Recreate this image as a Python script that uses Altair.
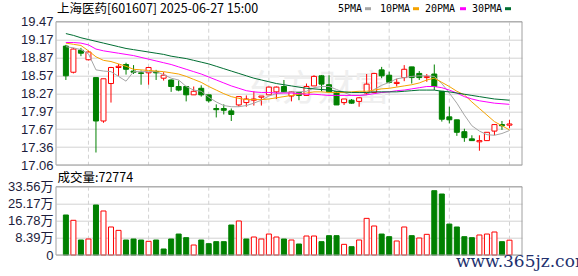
import json
import altair as alt
import pandas as pd

# ---------------- data ----------------
dates = ["03-31", "04-01", "04-02", "04-03", "04-07", "04-08", "04-09", "04-10", "04-11", "04-14",
         "04-15", "04-16", "04-17", "04-18", "04-21", "04-22", "04-23", "04-24", "04-25", "04-28",
         "04-29", "04-30", "05-06", "05-07", "05-08", "05-09", "05-12", "05-13", "05-14", "05-15",
         "05-16", "05-19", "05-20", "05-21", "05-22", "05-23", "05-26", "05-27", "05-28", "05-29",
         "05-30", "06-03", "06-04", "06-05", "06-06", "06-09", "06-10", "06-11", "06-12", "06-13",
         "06-16", "06-17", "06-18", "06-19", "06-20", "06-23", "06-24", "06-25", "06-26", "06-27"]

opens = [19.06, 18.62, 18.99, 18.83, 18.53, 17.80, 18.43, 18.70, 18.75, 18.64,
         18.61, 18.61, 18.63, 18.52, 18.49, 18.38, 18.38, 18.24, 18.35, 18.24,
         18.01, 18.01, 17.97, 18.07, 18.11, 18.15, 18.20, 18.24, 18.29, 18.38,
         18.22, 18.28, 18.23, 18.39, 18.56, 18.41, 18.29, 18.11, 18.15, 18.13,
         18.27, 18.28, 18.66, 18.57, 18.43, 18.53, 18.71, 18.60, 18.53, 18.59,
         18.30, 17.87, 17.82, 17.62, 17.50, 17.45, 17.47, 17.63, 17.74, 17.73]
highs = [19.08, 19.03, 19.03, 18.98, 18.53, 18.51, 18.71, 18.76, 18.78, 18.74,
         18.65, 18.71, 18.66, 18.62, 18.50, 18.48, 18.39, 18.38, 18.40, 18.24,
         18.08, 18.08, 18.01, 18.21, 18.23, 18.30, 18.22, 18.38, 18.38, 18.49,
         18.30, 18.29, 18.43, 18.57, 18.57, 18.57, 18.30, 18.17, 18.17, 18.20,
         18.59, 18.61, 18.71, 18.63, 18.51, 18.74, 18.71, 18.64, 18.59, 18.75,
         18.30, 18.04, 17.82, 17.67, 17.56, 17.56, 17.61, 17.74, 17.80, 17.82]
lows = [18.49, 18.60, 18.89, 18.82, 17.27, 17.77, 18.11, 18.56, 18.58, 18.59,
        18.41, 18.41, 18.49, 18.48, 18.29, 18.30, 18.13, 18.24, 18.21, 18.11,
        17.86, 17.91, 17.80, 18.04, 18.04, 18.06, 18.06, 18.24, 18.17, 18.28,
        18.13, 18.15, 18.22, 18.39, 18.30, 18.29, 18.07, 18.07, 18.09, 18.04,
        18.24, 18.27, 18.52, 18.43, 18.38, 18.47, 18.43, 18.49, 18.46, 18.32,
        17.79, 17.76, 17.55, 17.45, 17.47, 17.30, 17.47, 17.56, 17.65, 17.68]
closes = [18.56, 19.01, 18.94, 18.96, 17.80, 18.51, 18.70, 18.72, 18.67, 18.62,
          18.60, 18.70, 18.61, 18.57, 18.38, 18.32, 18.24, 18.30, 18.24, 18.14,
          17.99, 17.98, 17.91, 18.21, 18.17, 18.17, 18.22, 18.37, 18.37, 18.29,
          18.29, 18.23, 18.38, 18.55, 18.42, 18.29, 18.07, 18.17, 18.10, 18.19,
          18.42, 18.60, 18.56, 18.45, 18.45, 18.67, 18.53, 18.53, 18.55, 18.38,
          17.83, 17.82, 17.61, 17.52, 17.47, 17.47, 17.61, 17.74, 17.72, 17.75]

# volume in 万 shares
volumes = [19.66, 17.05, 7.37, 7.86, 24.57, 21.62, 13.76, 12.10, 7.37, 7.86,
           7.37, 6.72, 7.37, 2.95, 7.86, 10.30, 8.52, 4.91, 7.37, 5.57,
           6.55, 6.55, 14.74, 16.70, 7.86, 8.84, 7.86, 10.30, 8.84, 7.86,
           7.37, 5.40, 9.33, 9.33, 6.55, 9.50, 9.50, 5.24, 4.09, 7.37,
           18.00, 14.25, 10.30, 9.00, 6.88, 13.76, 9.50, 8.35, 10.15, 31.60,
           29.97, 15.20, 13.76, 9.00, 8.52, 9.83, 10.30, 11.30, 6.55, 7.28]
vol_dir = ["down", "up", "down", "up", "down", "up", "up", "up", "down", "down",
           "down", "up", "down", "down", "down", "down", "down", "up", "down", "down",
           "down", "down", "down", "up", "down", "up", "up", "up", "up", "down",
           "up", "down", "up", "up", "down", "down", "down", "up", "down", "up",
           "up", "up", "down", "down", "up", "up", "down", "up", "up", "down",
           "down", "down", "down", "down", "down", "up", "up", "up", "down", "up"]

ma5 = [19.05, 19.03, 19.00, 18.93, 18.66, 18.64, 18.63, 18.55, 18.47, 18.63,
       18.63, 18.63, 18.63, 18.58, 18.52, 18.49, 18.38, 18.32, 18.30, 18.20,
       18.12, 18.06, 18.04, 18.04, 18.06, 18.10, 18.15, 18.22, 18.26, 18.28,
       18.29, 18.29, 18.30, 18.36, 18.38, 18.38, 18.33, 18.28, 18.23, 18.23,
       18.24, 18.33, 18.40, 18.45, 18.51, 18.53, 18.55, 18.56, 18.56, 18.55,
       18.43, 18.27, 18.10, 17.90, 17.72, 17.63, 17.57, 17.56, 17.59, 17.64]
ma10 = [19.11, 19.09, 19.07, 18.98, 18.88, 18.82, 18.80, 18.76, 18.72, 18.67,
        18.66, 18.65, 18.64, 18.63, 18.61, 18.59, 18.55, 18.50, 18.45, 18.38,
        18.32, 18.26, 18.21, 18.18, 18.16, 18.16, 18.16, 18.17, 18.19, 18.21,
        18.23, 18.25, 18.27, 18.29, 18.29, 18.28, 18.28, 18.28, 18.29, 18.30,
        18.30, 18.32, 18.34, 18.35, 18.37, 18.39, 18.41, 18.44, 18.49, 18.52,
        18.45, 18.38, 18.30, 18.24, 18.12, 18.01, 17.90, 17.79, 17.72, 17.65]
ma20 = [19.12, 19.12, 19.11, 19.08, 19.01, 18.98, 18.96, 18.94, 18.92, 18.90,
        18.87, 18.84, 18.81, 18.78, 18.75, 18.71, 18.67, 18.63, 18.59, 18.54,
        18.49, 18.44, 18.39, 18.35, 18.31, 18.29, 18.28, 18.28, 18.27, 18.27,
        18.27, 18.26, 18.25, 18.25, 18.24, 18.23, 18.23, 18.23, 18.23, 18.23,
        18.24, 18.26, 18.28, 18.29, 18.31, 18.32, 18.34, 18.36, 18.38, 18.38,
        18.36, 18.32, 18.27, 18.21, 18.17, 18.14, 18.12, 18.10, 18.09, 18.08]
ma30 = [19.27, 19.24, 19.20, 19.17, 19.14, 19.11, 19.08, 19.05, 19.02, 19.00,
        18.98, 18.96, 18.94, 18.92, 18.89, 18.87, 18.85, 18.82, 18.79, 18.76,
        18.72, 18.68, 18.64, 18.60, 18.56, 18.52, 18.49, 18.46, 18.43, 18.41,
        18.39, 18.37, 18.35, 18.34, 18.33, 18.32, 18.30, 18.29, 18.28, 18.28,
        18.28, 18.29, 18.29, 18.29, 18.29, 18.30, 18.31, 18.32, 18.32, 18.32,
        18.30, 18.29, 18.27, 18.25, 18.23, 18.21, 18.19, 18.17, 18.16, 18.15]

ma_names = ["5PMA", "10PMA", "20PMA", "30PMA"]
ma_colors = ["#a6a6a6", "#f5a300", "#ff00ff", "#006e32"]

price_labels = ["17.06", "17.36", "17.67", "17.97", "18.27", "18.57", "18.87", "19.17", "19.47"]
vol_labels = ["0", "8.39万", "16.78万", "25.17万", "33.56万"]
vol_ticks = [0, 8.39, 16.78, 25.17, 33.56]
x_tick_idx = [3, 11, 19, 27, 35, 43, 51, 59]

title_text = "上海医药[601607] 2025-06-27 15:00"
vol_title = "成交量:72774"
watermark = "www.365jz.com"
faint_mark = "东方财富"

# ---------------- layout (pixels) ----------------
W = 466
HP = 143.3          # price panel height
GAP = 21.7
HV = 68.3           # volume panel height
H = HP + GAP + HV
PMIN, PMAX = 17.06, 19.47
step = (PMAX - PMIN) / 8
price_pos = [PMIN + k * step for k in range(9)]

RED = "#ff0000"
GREEN = "#008000"
FRAME = "#a0a0a0"
GRID = "#d2d2d2"
LABEL = "#1c1c3c"

n = len(dates)
df = pd.DataFrame({
    "i": list(range(n)), "date": dates, "open": opens, "high": highs,
    "low": lows, "close": closes, "vol": volumes, "vdir": vol_dir,
})
df["dir"] = ["up" if c >= o else "down" for o, c in zip(opens, closes)]

ma_df = pd.concat([
    pd.DataFrame({"i": list(range(n)), "v": vals, "ma": name})
    for name, vals in zip(ma_names, [ma5, ma10, ma20, ma30])
])
tick_df = pd.DataFrame({"i": x_tick_idx})
one = alt.Data(values=[{"a": 1}])

xscale = alt.Scale(domain=[-0.65, 60.0], nice=False, zero=False)
pscale = alt.Scale(domain=[PMIN, PMAX], range=[HP, 0], nice=False, zero=False)
vscale = alt.Scale(domain=[0, 33.56], range=[H, H - HV], nice=False, zero=True)
fill_scale = alt.Scale(domain=["up", "down"], range=["#ffffff", GREEN])
stroke_scale = alt.Scale(domain=["up", "down"], range=[RED, GREEN])

X0 = alt.X("i:Q", scale=xscale, axis=None)

x_axis = alt.Axis(values=x_tick_idx, labelExpr=json.dumps(dates) + "[round(datum.value)]",
                  labelColor=RED, labelFontSize=11, labelFont="Liberation Sans",
                  domain=False, ticks=False, tickSize=0, grid=False, labelPadding=5,
                  title=None, labelFlush=False)
p_axis = alt.Axis(values=price_pos, orient="left",
                  labelExpr=json.dumps(price_labels) + f"[round((datum.value - {PMIN}) / {step})]",
                  grid=True, gridColor=GRID, gridWidth=1, domain=False, ticks=False, tickSize=0,
                  labelPadding=3, labelFontSize=13, labelFont="Liberation Sans",
                  labelColor=LABEL, title=None, labelFlush=False)
v_axis = alt.Axis(values=vol_ticks, orient="left",
                  labelExpr=json.dumps(vol_labels) + "[round(datum.value / 8.39)]",
                  grid=True, gridColor=GRID, gridWidth=1, domain=False, ticks=False, tickSize=0,
                  labelPadding=3, labelFontSize=13, labelFont="Liberation Sans, Noto Sans CJK SC",
                  labelColor=LABEL, title=None, labelFlush=False)

# faint background watermark
faint = alt.Chart(one).mark_text(text=faint_mark, fontSize=36, font="Noto Sans CJK SC",
                                 color="#efefef", align="left", baseline="middle").encode(
    x=alt.value(190), y=alt.value(68))

# dashed vertical grid
vgrid_p = alt.Chart(tick_df).mark_rule(color=GRID, strokeDash=[4, 3], strokeWidth=1).encode(
    x=X0, y=alt.value(0), y2=alt.value(HP))
vgrid_v = alt.Chart(tick_df).mark_rule(color=GRID, strokeDash=[4, 3], strokeWidth=1).encode(
    x=X0, y=alt.value(H - HV), y2=alt.value(H))

# candles
wick = alt.Chart(df).mark_rule(strokeWidth=1).encode(
    x=X0,
    y=alt.Y("low:Q", scale=pscale, axis=p_axis),
    y2="high:Q",
    stroke=alt.Stroke("dir:N", scale=stroke_scale, legend=None),
)
body = alt.Chart(df).mark_bar(size=5, strokeWidth=1).encode(
    x=X0,
    y=alt.Y("open:Q", scale=pscale, axis=None),
    y2="close:Q",
    fill=alt.Fill("dir:N", scale=fill_scale, legend=None),
    stroke=alt.Stroke("dir:N", scale=stroke_scale, legend=None),
)
ma_lines = alt.Chart(ma_df).mark_line(strokeWidth=1).encode(
    x=X0,
    y=alt.Y("v:Q", scale=pscale, axis=None),
    color=alt.Color("ma:N", scale=alt.Scale(domain=ma_names, range=ma_colors), legend=None),
    detail="ma:N",
)

# volume
vbars = alt.Chart(df).mark_bar(size=5, strokeWidth=1).encode(
    x=alt.X("i:Q", scale=xscale, axis=x_axis),
    y=alt.Y("vol:Q", scale=vscale, axis=v_axis),
    fill=alt.Fill("vdir:N", scale=fill_scale, legend=None),
    stroke=alt.Stroke("vdir:N", scale=stroke_scale, legend=None),
)

# frames
frame_p = alt.Chart(one).mark_rect(fillOpacity=0, stroke=FRAME, strokeWidth=1).encode(
    x=alt.value(0), x2=alt.value(W), y=alt.value(0), y2=alt.value(HP))
frame_v = alt.Chart(one).mark_rect(fillOpacity=0, stroke=FRAME, strokeWidth=1).encode(
    x=alt.value(0), x2=alt.value(W), y=alt.value(H - HV), y2=alt.value(H))

# texts
title = alt.Chart(one).mark_text(text=title_text, fontSize=12.5, font="Noto Sans CJK SC",
                                 color="#000000", align="left", baseline="middle").encode(
    x=alt.value(1), y=alt.value(-13))
vtitle = alt.Chart(one).mark_text(text=vol_title, fontSize=12.5, font="Noto Sans CJK SC",
                                  color="#000000", align="left", baseline="middle").encode(
    x=alt.value(1.5), y=alt.value(HP + 12.5))

legend_text_x = [282, 324, 369, 416]
legend_sw_x = [309, 357, 404, 449]
legend_layers = []
for name, col, tx, sx in zip(ma_names, ma_colors, legend_text_x, legend_sw_x):
    legend_layers.append(alt.Chart(one).mark_text(
        text=name, fontSize=10, font="DejaVu Sans Mono", color="#000000",
        align="left", baseline="middle").encode(x=alt.value(tx), y=alt.value(-13.2)))
    legend_layers.append(alt.Chart(one).mark_rect(color=col).encode(
        x=alt.value(sx), x2=alt.value(sx + 6), y=alt.value(-14.5), y2=alt.value(-11.5)))

wm = alt.Chart(one).mark_text(text=watermark, fontSize=17, font="DejaVu Serif",
                              color="#22306e", align="left", baseline="alphabetic").encode(
    x=alt.value(400), y=alt.value(H + 11.5))

chart = alt.layer(
    faint, vgrid_p, vgrid_v, wick, body, ma_lines, vbars, frame_p, frame_v,
    title, vtitle, *legend_layers, wm,
).resolve_scale(y="independent").resolve_axis(y="independent").properties(
    width=W, height=H,
    autosize=alt.AutoSizeParams(type="none"),
    padding={"left": 56, "top": 21.7, "right": 56, "bottom": 21},
    background="#ffffff",
).configure_view(stroke=None)

chart.save("out.html", embed_options={"renderer": "svg", "actions": False})
